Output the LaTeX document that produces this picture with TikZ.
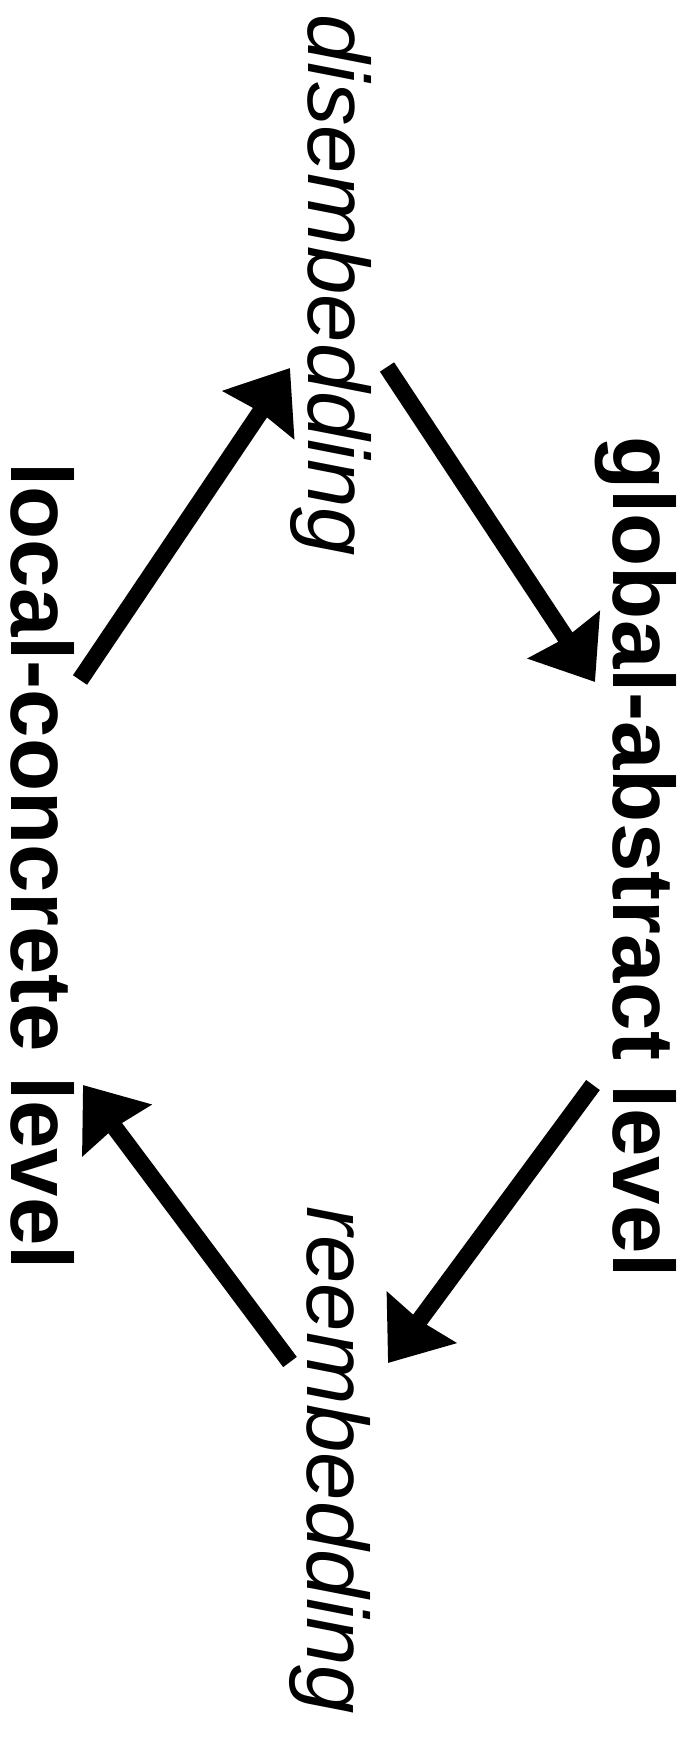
\documentclass[tikz,border=0pt]{standalone}
\usepackage{fontspec}
\setmainfont{Liberation Sans}
\usetikzlibrary{arrows.meta}

\begin{document}
\begin{tikzpicture}[
        x=0.5pt, y=-0.5pt,
        >={Stealth[length=28pt, width=42pt, inset=1.5pt]},
        flow/.style={->, line width=8.5pt},
        level/.style={
            rotate=-90,
            anchor=base west,
            inner sep=0pt,
            font=\fontsize{43.5}{52}\selectfont\bfseries
        },
        step label/.style={
            rotate=-90,
            anchor=base west,
            inner sep=0pt,
            font=\fontsize{43.5}{52}\selectfont\itshape
        }
    ]
        \useasboundingbox (0,0) rectangle (694,1745);

        % Levels
        \node[level] (glob) at (613,436) {global-abstract level};
        \node[level] (loc) at (11,462) {local-concrete level};

        % Transitions
        \node[step label] (dis) at (308,14) {disembedding};
        \node[step label] (reem) at (307,1206) {reembedding};

        % Arrow ends
        \coordinate (locUp) at (80,680);
        \coordinate (disIn) at (290,368);
        \coordinate (disOut) at (387,367);
        \coordinate (globIn) at (595,682);
        \coordinate (globOut) at (593,1085);
        \coordinate (reemIn) at (388,1363);
        \coordinate (reemOut) at (290,1362);
        \coordinate (locIn) at (83,1085);

        % Cycle
        \draw[flow] (locUp) -- (disIn);
        \draw[flow] (disOut) -- (globIn);
        \draw[flow] (globOut) -- (reemIn);
        \draw[flow] (reemOut) -- (locIn);
    \end{tikzpicture}
\end{document}
